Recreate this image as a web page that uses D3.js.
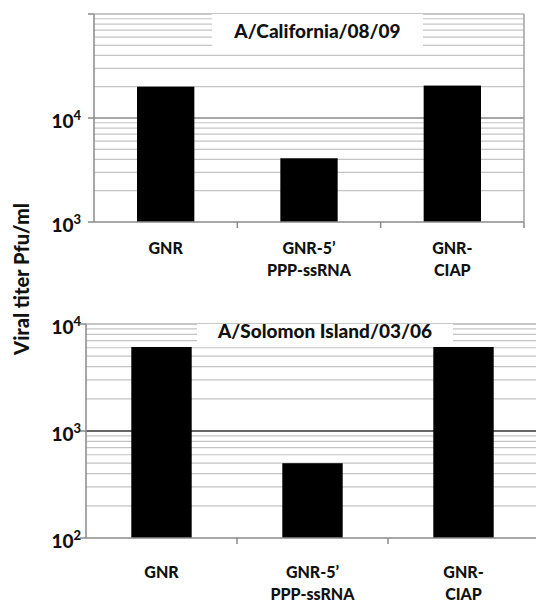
<!DOCTYPE html>
<html>
<head>
    <title>Viral titer</title>
    <script src="https://d3js.org/d3.v7.min.js"></script>
    <style>
        body { margin: 0; background: #fff; }
        text { font-family: Lato, "Open Sans", sans-serif; font-weight: 900; fill: #111; }
        .minor { stroke: #c4c4c4; stroke-width: 1.2px; }
        .axis-line { stroke: #8a8a8a; stroke-width: 1.5px; fill: none; }
    </style>
</head>
<body>
<script>
    // data
    var categories = [["GNR"], ["GNR-5\u2019", "PPP-ssRNA"], ["GNR-", "CIAP"]];
    var californiaTiters = [20000, 4100, 20500];
    var solomonTiters = [6100, 500, 6100];
    var californiaTitle = "A/California/08/09";
    var solomonTitle = "A/Solomon Island/03/06";
    var californiaDecades = [1e3, 1e4, 1e5];
    var solomonDecades = [1e2, 1e3, 1e4];

    var W = 536, H = 602;
    var svg = d3.select("body").append("svg")
        .attr("width", W)
        .attr("height", H);

    // panel layouts (positions only)
    var panels = [
        {title: californiaTitle, values: californiaTiters, decades: californiaDecades, labelTop: false,
         x0: 94, x1: 524, y0: 14, y1: 222, box: [212, 14, 211, 36], titleY: 38,
         labelY: 254, majorColor: "#8a8a8a", rightBorder: true},
        {title: solomonTitle, values: solomonTiters, decades: solomonDecades, labelTop: true,
         x0: 86, x1: 539, y0: 324, y1: 538, box: [197, 324, 256, 20], titleY: 338,
         labelY: 578, majorColor: "#333", rightBorder: false}
    ];

    panels.forEach(function (p) {
        var g = svg.append("g");
        var y = d3.scaleLog()
            .domain([p.decades[0], p.decades[p.decades.length - 1]])
            .range([p.y1, p.y0]);
        var x = d3.scaleBand()
            .domain(d3.range(categories.length))
            .range([p.x0, p.x1]);

        // minor gridlines 2..9 x 10^n
        var minors = [];
        for (var i = 0; i < p.decades.length - 1; i++) {
            for (var m = 2; m <= 9; m++) minors.push(p.decades[i] * m);
        }
        g.selectAll("line.minor").data(minors).enter().append("line")
            .attr("class", "minor")
            .attr("x1", p.x0).attr("x2", p.x1)
            .attr("y1", d => y(d)).attr("y2", d => y(d));

        // inner decade lines
        g.selectAll("line.major").data(p.decades.slice(1, -1)).enter().append("line")
            .attr("x1", p.x0).attr("x2", p.x1)
            .attr("y1", d => y(d)).attr("y2", d => y(d))
            .style("stroke", p.majorColor).style("stroke-width", "1.5px");

        // top line
        g.append("line")
            .attr("x1", p.x0).attr("x2", p.x1)
            .attr("y1", p.y0).attr("y2", p.y0)
            .style("stroke", "#b5b5b5").style("stroke-width", "1.5px");

        // bars
        g.selectAll("rect.bar").data(p.values).enter().append("rect")
            .attr("x", (d, i) => x(i) + x.bandwidth() * 0.3)
            .attr("width", x.bandwidth() * 0.4)
            .attr("y", d => y(d))
            .attr("height", d => p.y1 - y(d))
            .style("fill", "#000");

        // title box
        g.append("rect")
            .attr("x", p.box[0]).attr("y", p.box[1])
            .attr("width", p.box[2]).attr("height", p.box[3])
            .style("fill", "#fff");
        g.append("text")
            .attr("x", p.box[0] + p.box[2] / 2)
            .attr("y", p.titleY)
            .attr("text-anchor", "middle")
            .style("font-size", "19px")
            .text(p.title);

        // axes
        g.append("line").attr("class", "axis-line")
            .attr("x1", p.x0).attr("x2", p.x0)
            .attr("y1", p.y0).attr("y2", p.y1);
        g.append("line").attr("class", "axis-line")
            .attr("x1", p.x0).attr("x2", p.x1)
            .attr("y1", p.y1).attr("y2", p.y1);
        if (p.rightBorder) {
            g.append("line").attr("class", "axis-line")
                .attr("x1", p.x1).attr("x2", p.x1)
                .attr("y1", p.y0).attr("y2", p.y1)
                .style("stroke", "#a0a0a0");
        }

        // y ticks at decades
        g.selectAll("line.ytick").data(p.decades).enter().append("line")
            .attr("class", "axis-line")
            .attr("x1", p.x0 - 6).attr("x2", p.x0)
            .attr("y1", d => y(d)).attr("y2", d => y(d));

        // x ticks at category boundaries
        g.selectAll("line.xtick").data(d3.range(1, categories.length + 1)).enter().append("line")
            .attr("class", "axis-line")
            .attr("x1", d => p.x0 + d * x.step()).attr("x2", d => p.x0 + d * x.step())
            .attr("y1", p.y1).attr("y2", p.y1 + 6);

        // y tick labels 10^n
        var labelled = p.labelTop ? p.decades : p.decades.slice(0, -1);
        var lab = g.selectAll("text.ylab").data(labelled)
            .enter().append("text")
            .attr("x", 81)
            .attr("y", d => y(d) + 10)
            .attr("text-anchor", "end")
            .style("font-size", "19px");
        lab.append("tspan").text("10");
        lab.append("tspan")
            .attr("dy", -8)
            .style("font-size", "13px")
            .text(d => Math.round(Math.log10(d)));

        // category labels
        categories.forEach(function (lines, i) {
            var t = g.append("text")
                .attr("x", x(i) + x.bandwidth() / 2)
                .attr("y", p.labelY)
                .attr("text-anchor", "middle")
                .style("font-size", "16px");
            lines.forEach(function (s, k) {
                t.append("tspan")
                    .attr("x", x(i) + x.bandwidth() / 2)
                    .attr("dy", k === 0 ? 0 : 22)
                    .text(s);
            });
        });
    });

    // shared y label
    svg.append("text")
        .attr("transform", "translate(29,279) rotate(-90)")
        .attr("text-anchor", "middle")
        .style("font-size", "20px")
        .text("Viral titer Pfu/ml");
</script>
</body>
</html>
